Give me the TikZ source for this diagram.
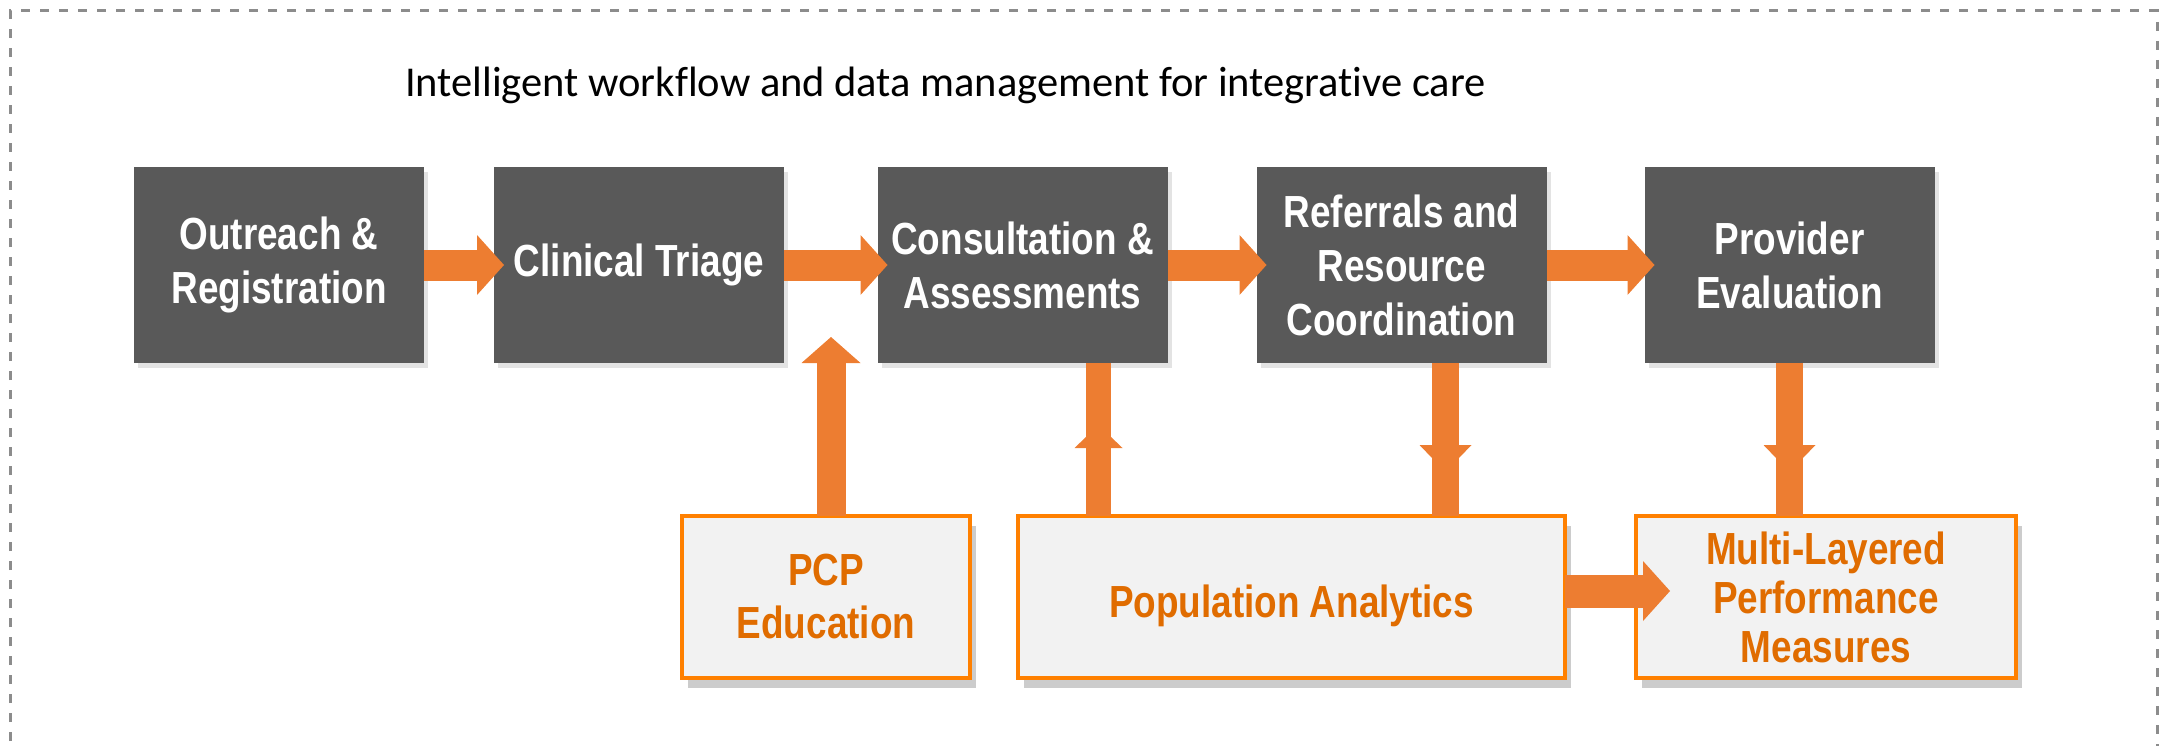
\documentclass[tikz,border=0pt]{standalone}
\usepackage{tikz}
\usepackage{xcolor}
\usepackage{fontspec}
\usetikzlibrary{arrows.meta}
\usetikzlibrary{shadows}

\newfontfamily\boxfont[FakeStretch=0.82]{Liberation Sans}
\newfontfamily\titlefont[Ligatures=NoCommon]{Carlito}

\definecolor{boxgray}{HTML}{595959}
\definecolor{arroworange}{HTML}{ED7D31}
\definecolor{lineorange}{HTML}{FF8000}
\definecolor{textorange}{HTML}{E06C00}
\definecolor{panelgray}{HTML}{F2F2F2}
\definecolor{dashgray}{HTML}{8C8C8C}

\begin{document}
\begin{tikzpicture}[x=1pt,y=1pt,
	stage/.style={fill=boxgray,text=white,minimum width=290pt,minimum height=196pt,inner sep=0pt,outer sep=0pt,align=center,
		font=\boxfont\bfseries\fontsize{45pt}{54pt}\selectfont,drop shadow={shadow xshift=4pt,shadow yshift=-5pt,fill=black!22}},
	support/.style={draw=lineorange,line width=4pt,fill=panelgray,text=textorange,minimum height=162pt,inner sep=0pt,outer sep=0pt,align=center,
		font=\boxfont\bfseries\fontsize{45pt}{53pt}\selectfont,drop shadow={shadow xshift=6pt,shadow yshift=-10pt,fill=black!40}},
	flow/.style={draw=arroworange,line width=31pt,-{Triangle[length=27pt,width=60pt,line width=0pt]},shorten >=-10pt},
	link/.style={draw=arroworange,line width=27pt},
	tip/.style={-{Triangle[length=27pt,width=52pt,line width=0pt]}}]
	\useasboundingbox (0,0) rectangle (2160,-746);
	% frame
	\draw[dashgray,line width=3pt,dash pattern=on 9pt off 10pt] (10,-760) -- (10,-11) -- (2157,-11) -- (2157,-760);
	\node[anchor=base west,inner sep=0pt,font=\titlefont\fontsize{42.5pt}{50pt}\selectfont] (title) at (405,-97) {Intelligent workflow and data management for integrative care};

	% workflow row
	\node[stage] (out) at (279,-265) {Outreach \&\\Registration};
	\node[stage] (tri) at (639,-265) {Clinical Triage};
	\node[stage] (con) at (1022.5,-265) {Consultation \&\\Assessments};
	\node[stage] (ref) at (1401.5,-265) {Referrals and\\Resource\\Coordination};
	\node[stage] (prov) at (1789.5,-265) {Provider\\Evaluation};

	% support row
	\node[support,minimum width=288pt] (pcp) at (826,-597) {PCP\\Education};
	\node[support,minimum width=547pt,text height=40pt,text depth=0pt] (pop) at (1291.5,-597) {Population Analytics};
	\node[support,minimum width=380pt,font=\boxfont\bfseries\fontsize{45pt}{49pt}\selectfont] (mlt) at (1826,-597) {Multi-Layered\\Performance\\Measures};

	\foreach \a/\b in {out/tri,tri/con,con/ref,ref/prov}
		\draw[flow] (\a) -- (\b);

	\coordinate (pcptip) at (831,-337);
	\coordinate (conrise) at (1098.5,-425);
	\coordinate (refdrop) at (1445.5,-472);
	\coordinate (provdrop) at (1789.5,-472);

	\draw[link,line width=29pt,-{Triangle[length=26pt,width=59pt,line width=0pt]}] (pcp.north -| pcptip) -- (pcptip);
	\draw[link,line width=25pt] (con.south -| conrise) -- (pop.north -| conrise);
	\draw[link,line width=25pt,-{Triangle[length=23pt,width=48pt,line width=0pt]}] (pop.north -| conrise) -- (conrise);
	\draw[link] (ref.south -| refdrop) -- (pop.north -| refdrop);
	\draw[link,tip] (ref.south -| refdrop) -- (refdrop);
	\draw[link] (prov.south -| provdrop) -- (mlt.north -| provdrop);
	\draw[link,tip] (prov.south -| provdrop) -- (provdrop);

	\draw[flow,line width=33pt,shorten >=-34pt] ([yshift=6pt]pop.east) -- ([yshift=6pt]mlt.west);
\end{tikzpicture}
\end{document}
